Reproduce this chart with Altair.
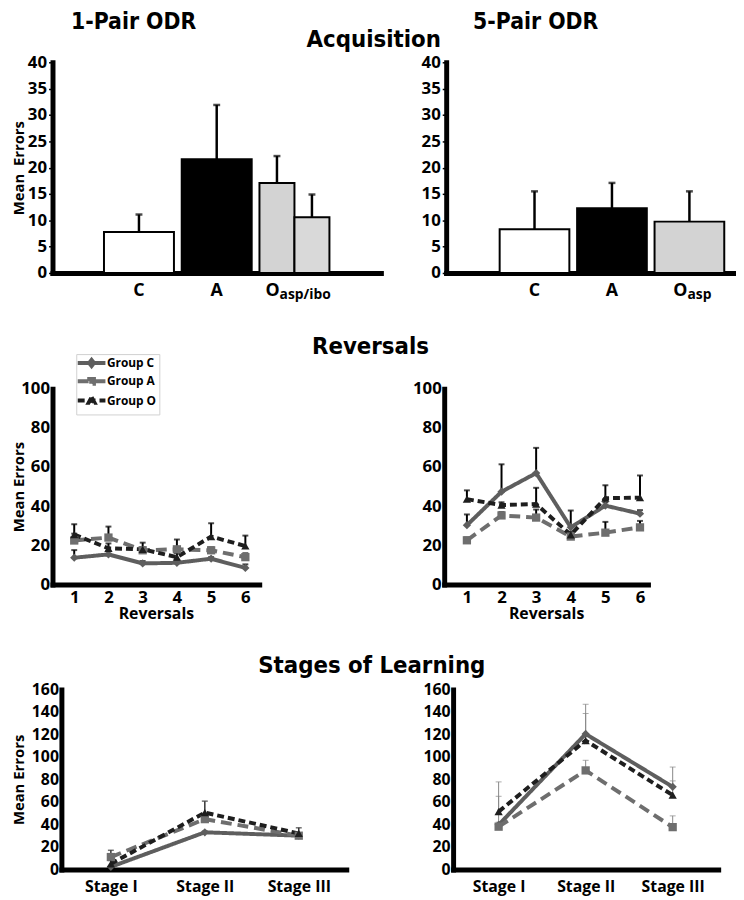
import altair as alt
import pandas as pd

FONT = "Open Sans"
TFONT = "Liberation Sans Narrow, DejaVu Sans Condensed, Open Sans"

# ---------------- Acquisition data ----------------
acq_categories = ["C", "A", "O"]
acq_ticks = [0, 5, 10, 15, 20, 25, 30, 35, 40]

acq1_group = ["C", "A", "O", "O"]
acq1_sub = ["C", "A", "asp", "ibo"]
acq1_mean = [7.8, 21.6, 17.1, 10.6]
acq1_upper = [11.1, 31.9, 22.2, 14.9]
acq1_fill = ["#ffffff", "#000000", "#d3d3d3", "#d9d9d9"]
acq1_split = [False, False, True, True]
acq1_subscript = "asp/ibo"

acq5_group = ["C", "A", "O"]
acq5_sub = ["C", "A", "O"]
acq5_mean = [8.3, 12.3, 9.75]
acq5_upper = [15.5, 17.1, 15.5]
acq5_fill = ["#ffffff", "#000000", "#d3d3d3"]
acq5_split = [False, False, False]
acq5_subscript = "asp"

# ---------------- series styling ----------------
series_names = ["Group C", "Group A", "Group O"]
series_keys = ["C", "A", "O"]
series_colors = ["#5e5e5e", "#6e6e6e", "#1e1e1e"]
series_shapes = ["diamond", "square", "triangle-up"]
series_dashes = [[1, 0], [11, 6], [7, 4]]
# legend glyphs: a short line with the marker in its middle
legend_glyphs = [
    "M-3.5,0L3.5,0M0,-0.75L0.6,0L0,0.75L-0.6,0Z",
    "M-3.5,0L3.5,0M-0.6,-0.6L0.6,-0.6L0.6,0.6L-0.6,0.6Z",
    "M-3.5,0L3.5,0M0,-0.85L0.75,0.55L-0.75,0.55Z",
]

# ---------------- Reversals data ----------------
rev_labels = ["1", "2", "3", "4", "5", "6"]
rev_ticks = [0, 20, 40, 60, 80, 100]

rev1_C = [13.7, 15.4, 10.8, 11.1, 13.2, 8.5]
rev1_C_up = [17.6, 17.0, 12.0, 12.0, 14.0, 10.3]
rev1_A = [22.5, 24.0, 17.5, 18.0, 17.5, 14.0]
rev1_A_up = [26.0, 29.6, 19.0, 23.0, 19.0, 16.0]
rev1_O = [25.5, 18.5, 18.0, 14.0, 24.5, 19.7]
rev1_O_up = [30.8, 21.0, 21.4, 16.0, 31.3, 25.0]

rev5_C = [30.3, 47.4, 56.9, 29.2, 40.3, 36.2]
rev5_C_up = [35.8, 61.4, 69.8, 37.8, 42.0, 38.0]
rev5_A = [22.6, 35.3, 34.2, 24.5, 26.5, 29.2]
rev5_A_up = [24.0, 37.0, 38.3, 26.0, 32.0, 32.5]
rev5_O = [43.6, 40.6, 41.1, 25.4, 44.1, 44.4]
rev5_O_up = [48.1, 42.0, 49.4, 27.0, 50.7, 55.7]

# ---------------- Stages data ----------------
stage_labels = ["Stage I", "Stage II", "Stage III"]
stage_ticks = [0, 20, 40, 60, 80, 100, 120, 140, 160]

st1_C = [2.3, 33.0, 30.0]
st1_C_up = [3.0, 34.0, 31.0]
st1_A = [11.0, 44.7, 30.0]
st1_A_up = [17.0, 47.0, 32.0]
st1_O = [5.0, 50.5, 32.0]
st1_O_up = [8.0, 60.7, 37.0]

st5_C = [39.6, 120.4, 73.4]
st5_C_up = [65.0, 146.8, 91.0]
st5_A = [38.0, 88.0, 37.6]
st5_A_up = [42.0, 97.0, 47.6]
st5_O = [51.4, 114.5, 66.0]
st5_O_up = [77.8, 138.6, 78.7]


def bar_df(group, sub, mean, upper, fill, split):
    return pd.DataFrame({"group": group, "sub": sub, "mean": mean, "upper": upper,
                         "fill": fill, "split": split})


def long_df(xlabels, C, Cu, A, Au, O, Ou):
    rows = []
    for name, key, m, u in zip(series_names, series_keys, [C, A, O], [Cu, Au, Ou]):
        for xl, mv, uv in zip(xlabels, m, u):
            rows.append({"x": xl, "group": name, "g2": key, "mean": mv, "upper": uv})
    return pd.DataFrame(rows)


def bar_panel(df, subscript, width, height, pad_outer, align, ytitle, o_dx, title, title_dx, tpad):
    yaxis = alt.Axis(values=acq_ticks, tickCount=9, title=ytitle, labelFontSize=17, titleFontSize=15,
                     tickSize=4, tickWidth=1.5, labelPadding=2, titlePadding=tpad, labelOverlap=False)
    ysc = alt.Scale(domain=[0, 40], nice=False)
    yenc = alt.Y("mean:Q", scale=ysc, axis=yaxis)
    yup = alt.Y("upper:Q", scale=ysc, axis=yaxis)
    xscale = alt.Scale(domain=acq_categories, paddingInner=0.1, paddingOuter=pad_outer, align=align)
    xenc = alt.X("group:N", scale=xscale, sort=acq_categories,
                 axis=alt.Axis(title=None, labels=False, ticks=False))
    base = alt.Chart(df)
    full = base.transform_filter("!datum.split")
    split = base.transform_filter("datum.split")
    off = alt.XOffset("sub:N", scale=alt.Scale(paddingInner=0, paddingOuter=0))
    layers = [
        full.mark_rule(color="black", strokeWidth=2.5).encode(x=xenc, y=yenc, y2="upper:Q"),
        full.mark_tick(color="black", thickness=2.5, size=7).encode(x=xenc, y=yup),
        full.mark_bar(stroke="black", strokeWidth=2).encode(
            x=xenc, y=yenc, fill=alt.Fill("fill:N", scale=None)),
    ]
    if df["split"].any():
        layers += [
            split.mark_rule(color="black", strokeWidth=2.5).encode(x=xenc, xOffset=off, y=yenc, y2="upper:Q"),
            split.mark_tick(color="black", thickness=2.5, size=7).encode(x=xenc, xOffset=off, y=yup),
            split.mark_bar(stroke="black", strokeWidth=2).encode(
                x=xenc, xOffset=off, y=yenc, fill=alt.Fill("fill:N", scale=None)),
        ]
    labels = pd.DataFrame({"group": acq_categories, "mean": [0, 0, 0],
                           "sub": ["", "", subscript]})
    lab = alt.Chart(labels)
    layers += [
        lab.transform_filter("datum.group != 'O'").mark_text(
            font=FONT, fontWeight="bold", fontSize=18, baseline="top", dy=9, color="black"
        ).encode(x=xenc, y=yenc, text="group:N"),
        lab.transform_filter("datum.group == 'O'").mark_text(
            font=FONT, fontWeight="bold", fontSize=18, baseline="top", dy=9, align="right",
            dx=o_dx, color="black"
        ).encode(x=xenc, y=yenc, text="group:N"),
        lab.transform_filter("datum.group == 'O'").mark_text(
            font=FONT, fontWeight="bold", fontSize=14, baseline="top", dy=15, align="left",
            dx=o_dx, color="black"
        ).encode(x=xenc, y=yenc, text="sub:N"),
    ]
    return alt.layer(*layers).properties(
        width=width, height=height,
        title=alt.TitleParams(title, font=TFONT, fontSize=23, fontWeight="bold", offset=20,
                              color="black", anchor="middle", dx=title_dx))


def line_panel(df, xdom, width, height, ticks, pad, align, ytitle, xtitle, err_color, err_w,
               legend, label_size, xlabel_size, tpad, xlpad, inset=0):
    ymax = ticks[-1]
    xscale = alt.Scale(type="point", domain=xdom, padding=pad, align=align)
    if inset:
        xscale = alt.Scale(type="point", domain=xdom, padding=pad, align=align, range=[inset, width])
    xenc = alt.X("x:N", sort=xdom, scale=xscale,
                 axis=alt.Axis(title=xtitle, labelAngle=0, ticks=False, labelFontSize=xlabel_size,
                               titleFontSize=16, labelPadding=xlpad, titlePadding=0, labelOverlap=False))
    ysc = alt.Scale(domain=[0, ymax], nice=False)
    yaxis = alt.Axis(values=ticks, tickCount=len(ticks), title=ytitle, labelFontSize=label_size,
                     titleFontSize=15, ticks=False, labelPadding=3, titlePadding=tpad,
                     labelOverlap=False, offset=-inset)
    yenc = alt.Y("mean:Q", scale=ysc, axis=yaxis)
    yup = alt.Y("upper:Q", scale=ysc, axis=yaxis)
    base = alt.Chart(df)
    color = alt.Color("group:N", scale=alt.Scale(domain=series_names, range=series_colors), legend=None)
    dash = alt.StrokeDash("group:N", scale=alt.Scale(domain=series_names, range=series_dashes),
                          legend=None)
    fill = alt.Fill("g2:N", scale=alt.Scale(domain=series_keys, range=series_colors), legend=None)
    shape = alt.Shape("g2:N", scale=alt.Scale(domain=series_keys, range=series_shapes), legend=None)
    layers = [
        base.mark_rule(color=err_color, strokeWidth=err_w).encode(x=xenc, y=yenc, y2="upper:Q"),
        base.mark_tick(color=err_color, thickness=err_w, size=6).encode(x=xenc, y=yup),
        base.mark_line(strokeWidth=4).encode(x=xenc, y=yenc, color=color, strokeDash=dash),
        base.mark_point(filled=True, opacity=1, size=70, strokeWidth=0).encode(
            x=xenc, y=yenc, fill=fill, shape=shape),
    ]
    if legend:
        leg = alt.Legend(orient="none", legendX=24, legendY=-35, title=None, symbolSize=64,
                         symbolStrokeWidth=4, symbolOffset=6.5, labelFont=FONT, labelFontSize=12,
                         labelFontWeight="bold", labelColor="black", padding=3, rowPadding=-3.5,
                         labelOffset=9.5, strokeColor="#d0d0d0")
        layers.append(
            base.transform_filter("false").mark_point(filled=True, opacity=1, strokeWidth=4).encode(
                x=xenc, y=yenc,
                fill=alt.Fill("group:N", scale=alt.Scale(domain=series_names, range=series_colors),
                              legend=leg),
                stroke=alt.Stroke("group:N", scale=alt.Scale(domain=series_names, range=series_colors),
                                  legend=leg),
                strokeDash=alt.StrokeDash("group:N", scale=alt.Scale(domain=series_names,
                                                                     range=series_dashes), legend=leg),
                shape=alt.Shape("group:N", scale=alt.Scale(domain=series_names, range=legend_glyphs),
                                legend=leg),
            )
        )
    return alt.layer(*layers).resolve_scale(
        color="independent", strokeDash="independent", fill="independent",
        shape="independent", stroke="independent").properties(width=width, height=height)


acq1 = bar_panel(bar_df(acq1_group, acq1_sub, acq1_mean, acq1_upper, acq1_fill, acq1_split),
                 acq1_subscript, 332, 213, 0.662, 0.5, "Mean\u00a0\u00a0Errors", -15,
                 "1-Pair ODR", -84, 1)
acq5 = bar_panel(bar_df(acq5_group, acq5_sub, acq5_mean, acq5_upper, acq5_fill, acq5_split),
                 acq5_subscript, 293, 213, 0.421, 0.82, None, -2, "5-Pair ODR", -56, 2)

rev1 = line_panel(long_df(rev_labels, rev1_C, rev1_C_up, rev1_A, rev1_A_up, rev1_O, rev1_O_up),
                  rev_labels, 209, 198, rev_ticks, 0.52, 0.61, "Mean Errors", "Reversals",
                  "black", 2, True, 17, 17, -6, 5)
rev5 = line_panel(long_df(rev_labels, rev5_C, rev5_C_up, rev5_A, rev5_A_up, rev5_O, rev5_O_up),
                  rev_labels, 206, 198, rev_ticks, 0.443, 0.74, None, "Reversals",
                  "black", 2, False, 17, 17, 0, 5)

st1 = line_panel(long_df(stage_labels, st1_C, st1_C_up, st1_A, st1_A_up, st1_O, st1_O_up),
                 stage_labels, 297, 182, stage_ticks, 0.516, 0.51, "Mean Errors", None,
                 "#333333", 1.5, False, 16, 16, 5, 9, inset=9)
st5 = line_panel(long_df(stage_labels, st5_C, st5_C_up, st5_A, st5_A_up, st5_O, st5_O_up),
                 stage_labels, 268, 182, stage_ticks, 0.523, 0.5, None, None,
                 "#888888", 1, False, 16, 16, 6, 9)

indep = dict(color="independent", strokeDash="independent", fill="independent",
             shape="independent", stroke="independent")


def row_title(text, dx=0, dy=0):
    return alt.TitleParams(text, font=TFONT, fontSize=24, fontWeight="bold", color="black",
                           anchor="middle", dx=dx, dy=dy, offset=4)


row1 = alt.hconcat(acq1, acq5, spacing=40).resolve_scale(**indep).properties(
    title=row_title("Acquisition", dy=46))
row2 = alt.hconcat(rev1, rev5, spacing=154).resolve_scale(**indep).properties(
    title=row_title("Reversals", dx=41, dy=9))
row3 = alt.hconcat(st1, st5, spacing=77).resolve_scale(**indep).properties(
    title=row_title("Stages of Learning", dx=7, dy=0))

chart = alt.concat(row1, row2, row3, columns=1, spacing=33, align="none").resolve_scale(**indep).properties(
    padding={"top": -2, "left": 3, "right": 0, "bottom": 0}
).configure_view(stroke=None).configure_axis(
    grid=False, domainColor="black", domainWidth=5, domainCap="square", labelOverlap=False,
    labelFont=FONT, labelFontWeight="bold", labelColor="black",
    titleFont=FONT, titleFontWeight="bold", titleColor="black", tickColor="black"
)

chart.save("out.html", embed_options={"renderer": "svg", "actions": False})
